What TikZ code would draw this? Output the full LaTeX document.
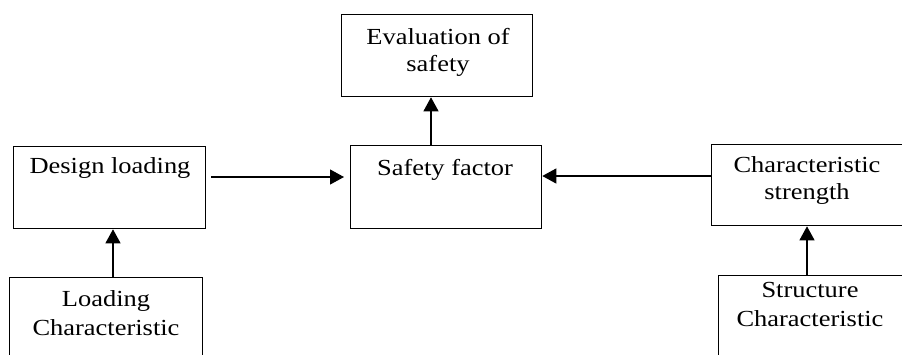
\documentclass[tikz,border=0pt]{standalone}
\usepackage{fontspec}
\setmainfont[FakeStretch=1.15]{Liberation Serif}
\usetikzlibrary{arrows.meta,calc}
\begin{document}
\begin{tikzpicture}[x=1pt,y=-1pt,
  box/.style={draw,line width=1.3pt,inner sep=0pt,anchor=north west},
  txt/.style={anchor=base,inner sep=0pt,font=\fontsize{23}{30}\selectfont},
  arr/.style={line width=1.2pt,-{Triangle[length=14pt,width=15pt]}}]
\useasboundingbox (0,0) rectangle (902,354);
% boxes
\node[box,minimum width=191pt,minimum height=82pt] (ev) at (341,14) {};
\node[box,minimum width=191pt,minimum height=83pt] (sf) at (350,145) {};
\node[box,minimum width=192pt,minimum height=82pt] (dl) at (13,146) {};
\node[box,minimum width=193pt,minimum height=90pt] (lc) at (9,277) {};
\node[box,minimum width=194pt,minimum height=81pt] (cs) at (711,144) {};
\node[box,minimum width=190pt,minimum height=90pt] (sc) at (718,275) {};
% texts
\node[txt] (evt1) at (438,44) {Evaluation of};
\node[txt] (evt2) at (438,71) {safety};
\node[txt] (sft) at (445,175) {Safety factor};
\node[txt] (dlt) at (110,173) {Design loading};
\node[txt] (lct1) at (106,306) {Loading};
\node[txt] (lct2) at (106,335) {Characteristic};
\node[txt] (cst1) at (807,172) {Characteristic};
\node[txt] (cst2) at (807,199) {strength};
\node[txt] (sct1) at (810,297) {Structure};
\node[txt] (sct2) at (810,326) {Characteristic};
% arrows
\draw[arr] ($(dl.north east)+(5,31)$) -- ($(sf.north west)+(-6,32)$);
\draw[arr] ($(cs.north west)+(0,32)$) -- ($(sf.north east)+(0,31)$);
\draw[arr] ($(sf.north west)+(81,0)$) -- ($(ev.south west)+(90,0)$);
\draw[arr] ($(lc.north west)+(104,0)$) -- ($(dl.south west)+(100,0)$);
\draw[arr] ($(sc.north west)+(89,0)$) -- ($(cs.south west)+(96,0)$);
\end{tikzpicture}
\end{document}
